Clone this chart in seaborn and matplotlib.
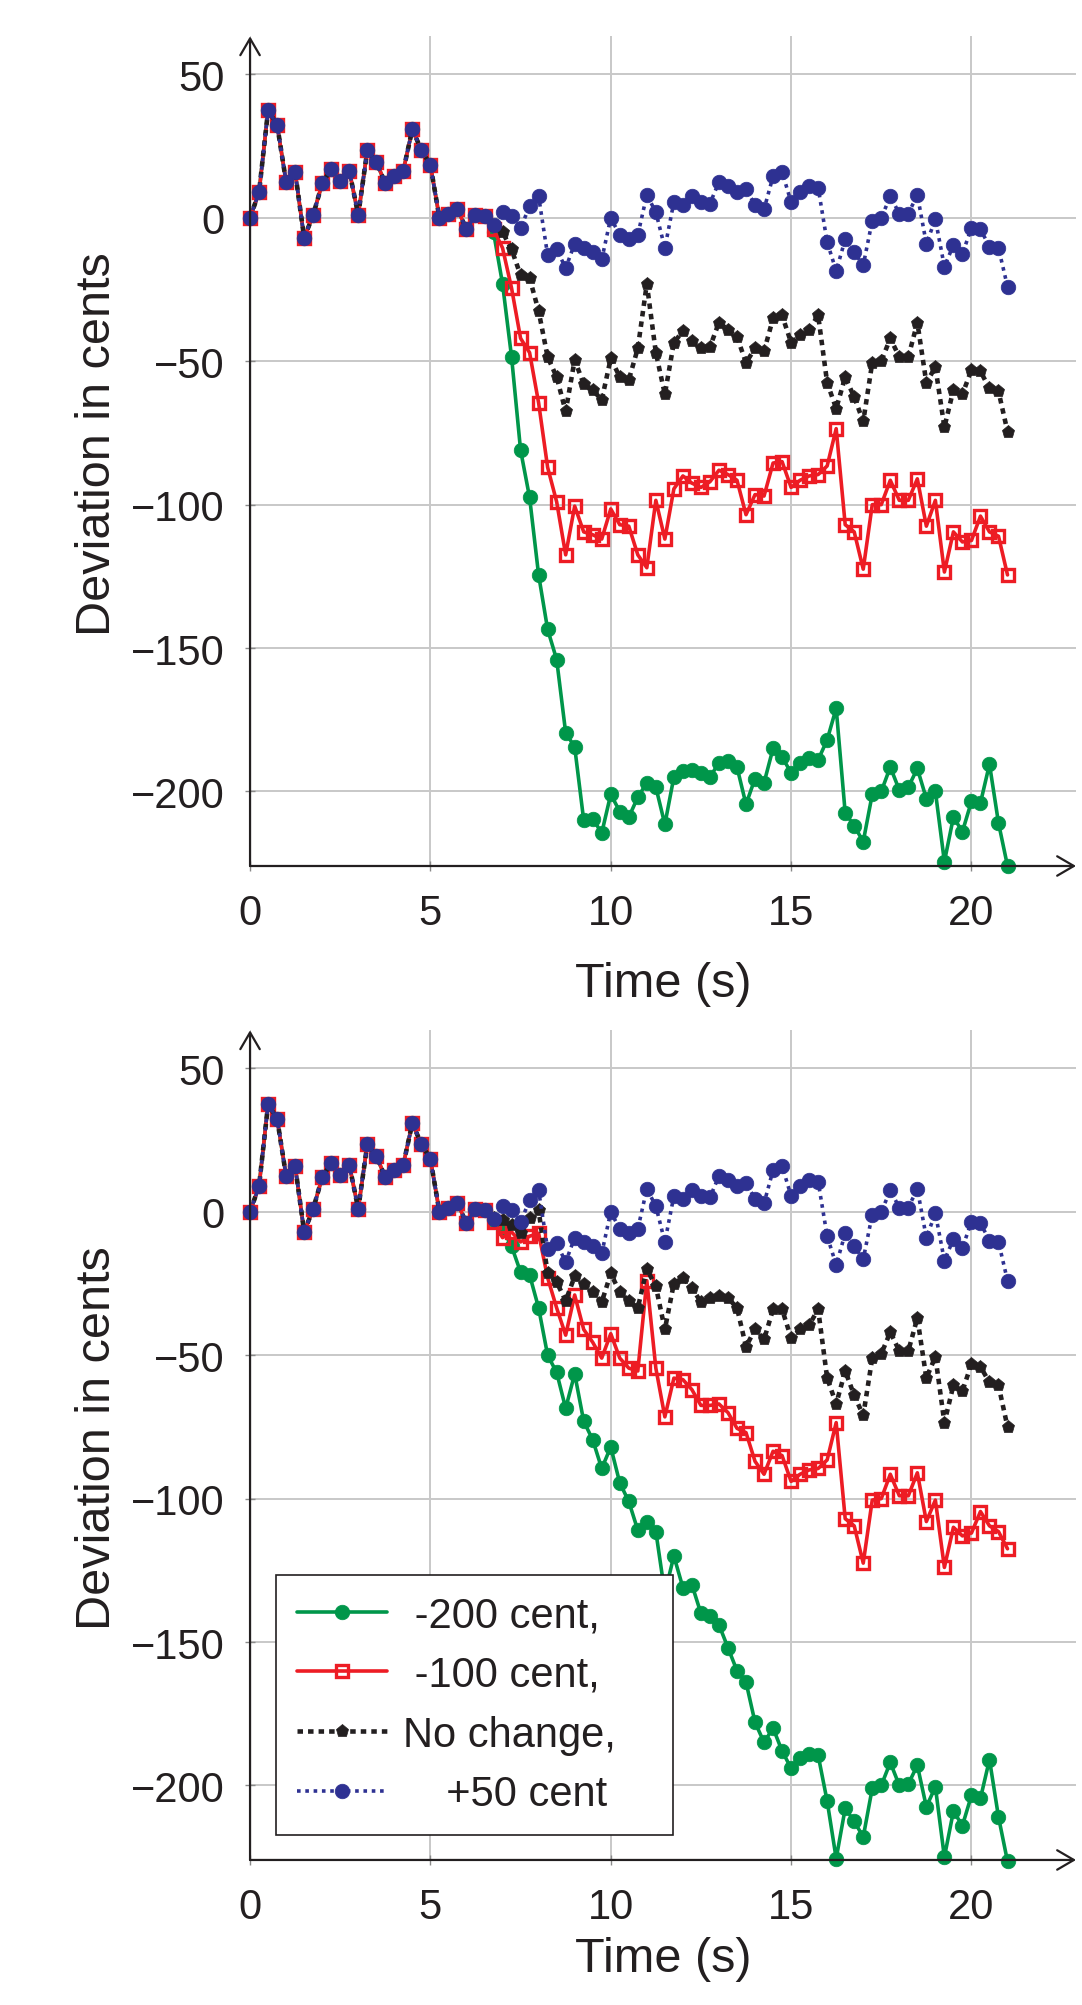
import matplotlib
matplotlib.use("Agg")
import matplotlib.pyplot as plt
import seaborn as sns

# ---------------- data ----------------
time_s = [0.0, 0.25, 0.5, 0.75, 1.0, 1.25, 1.5, 1.75, 2.0, 2.25, 2.5, 2.75,
          3.0, 3.25, 3.5, 3.75, 4.0, 4.25, 4.5, 4.75, 5.0, 5.25, 5.5, 5.75,
          6.0, 6.25, 6.5, 6.75, 7.0, 7.25, 7.5, 7.75, 8.0, 8.25, 8.5, 8.75,
          9.0, 9.25, 9.5, 9.75, 10.0, 10.25, 10.5, 10.75, 11.0, 11.25, 11.5, 11.75,
          12.0, 12.25, 12.5, 12.75, 13.0, 13.25, 13.5, 13.75, 14.0, 14.25, 14.5, 14.75,
          15.0, 15.25, 15.5, 15.75, 16.0, 16.25, 16.5, 16.75, 17.0, 17.25, 17.5, 17.75,
          18.0, 18.25, 18.5, 18.75, 19.0, 19.25, 19.5, 19.75, 20.0, 20.25, 20.5, 20.75,
          21.0]

# common part of every series (0 s .. 6.5 s)
shared_start = [0, 9, 37.5, 32.5, 12.5, 16, -7, 1, 12, 17, 13, 16.5, 1, 23.5,
                19.5, 12, 14.5, 16.5, 31, 23.5, 18.5, 0, 1.5, 3, -4, 1, 0.5]

# 6.75 s .. 21 s
plus50_tail = [-2.5, 2, 0.5, -3.5, 4, 7.5, -13, -11, -17.5, -9, -10.5, -12, -14.5,
               0, -6, -7.5, -6, 8, 2, -10.5, 5.5, 4.5, 7.5, 5.5, 5, 12.5, 11, 9, 10,
               4.5, 3, 14.5, 16, 5.5, 9, 11, 10.5, -8.5, -18.5, -7.5, -12, -16.5, -1,
               0, 7.5, 1.5, 1.5, 8, -9, -0.5, -17, -9.5, -12.5, -3.5, -4, -10, -10.5, -24]

# upper panel
nochange_top_tail = [-3, -5, -11, -20, -21, -32.5, -48.5, -55.5, -67.5, -49.5, -58, -60,
                     -63.5, -49, -55.5, -56.5, -45.5, -23, -47, -61.5, -43.5, -39.5, -43,
                     -45.5, -45, -36.5, -39, -41.5, -50.5, -45.5, -46.5, -35, -34, -43.5,
                     -41, -39, -34, -57.5, -66.5, -55.5, -62.5, -71, -50.5, -50, -42, -48.5,
                     -48.5, -36.5, -57.5, -52, -73, -60, -61.5, -53, -53.5, -59.5, -60.5, -74.5]
minus100_top_tail = [-4, -10.5, -24.5, -42, -47, -64.5, -87, -99, -117.5, -100.5, -109.5,
                     -110.5, -112, -101.5, -107, -107.5, -117.5, -122, -98.5, -112, -94.5,
                     -90, -92.5, -94, -92, -88, -89.5, -91.5, -103.5, -96.5, -97, -85.5, -85,
                     -94, -91.5, -90, -89.5, -86.5, -73.5, -107, -109.5, -122.5, -100, -100,
                     -91.5, -98.5, -98.5, -91, -107.5, -98.5, -123.5, -109.5, -113, -112.5,
                     -104, -109.5, -111, -124.5]
minus200_top_tail = [-5, -23, -48.5, -81, -97.5, -124.5, -143.5, -154, -179.5, -184.5, -210,
                     -209.5, -214.5, -201, -207, -209, -202, -197, -198.5, -211.5, -195, -193,
                     -192.5, -193.5, -195, -190, -189.5, -191.5, -204.5, -195.5, -197, -185,
                     -188, -193.5, -190, -188.5, -189, -182, -171, -207.5, -212, -217.5, -201,
                     -200, -191.5, -199.5, -198.5, -192, -202.5, -200, -224.5, -209, -214,
                     -203.5, -204, -190.5, -211, -226]

# lower panel
nochange_bot_tail = [-2, -3, -4.5, -7.5, -2, 0.5, -21.5, -24.5, -31, -22.5, -25, -28, -31.5,
                     -21.5, -28, -31, -33.5, -20, -26, -41, -25, -23, -26.5, -31.5, -30, -29.5,
                     -30, -33.5, -47, -41, -44.5, -34, -34, -44, -41, -39.5, -34, -58, -67,
                     -55.5, -64, -71, -51, -49.5, -42, -48.5, -48.5, -37, -58, -50.5, -73.5,
                     -60.5, -62.5, -53, -54, -59.5, -60.5, -75]
minus100_bot_tail = [-3.5, -9, -7, -10.5, -8.5, -7.5, -23, -33.5, -43, -29, -41, -45.5, -51,
                     -42.5, -51, -54.5, -55.5, -24, -54.5, -71.5, -58, -58.5, -62, -67.5,
                     -67.5, -67, -70, -75.5, -77, -87, -91.5, -83.5, -85, -94, -91.5, -90,
                     -89.5, -86.5, -73.5, -107, -109.5, -122.5, -100.5, -100, -91.5, -99, -99,
                     -91, -108, -100.5, -124, -110, -113, -112, -104.5, -109.5, -111.5, -117.5]
minus200_bot_tail = [-3, -6, -12, -21, -22, -33.5, -50, -56, -68.5, -56.5, -73, -79.5, -89.5,
                     -82, -94.5, -101, -111, -108, -111.5, -133, -120, -131, -130, -140, -141,
                     -144, -152, -160, -164, -178, -185, -180, -188, -194, -190.5, -189,
                     -189.5, -205.5, -225.5, -208, -212.5, -218, -201, -200, -192, -200,
                     -199.5, -193, -207.5, -200.5, -225, -209, -214, -203.5, -204.5, -191,
                     -211, -226.5]

series_labels = [" -200 cent,", " -100 cent,", "No change,", "   \u2009+50 cent"]
x_ticks = [0, 5, 10, 15, 20]
y_ticks = [-200, -150, -100, -50, 0, 50]

# ---------------- styling ----------------
sns.set_theme(style="white")
plt.rcParams["font.family"] = ["Liberation Sans", "DejaVu Sans"]
plt.rcParams["axes.unicode_minus"] = True

INK = "#231F20"
GREEN = "#00964A"
RED = "#ED1C24"
BLUE = "#2E3192"
GRID = "#C8C8C8"

line_styles = [
    dict(color=GREEN, linewidth=2.6, linestyle="-", marker="o", markersize=10.5,
         markerfacecolor=GREEN, markeredgecolor=GREEN, markeredgewidth=0.5),
    dict(color=RED, linewidth=2.6, linestyle="-", marker="s", markersize=8.2,
         markerfacecolor="none", markeredgecolor=RED, markeredgewidth=2.4),
    dict(color=INK, linewidth=3.3, linestyle=(0, (1.2, 1.1)), marker="p",
         markersize=9.5, markerfacecolor=INK, markeredgecolor=INK, markeredgewidth=0.5),
    dict(color=BLUE, linewidth=2.6, linestyle=(0, (1.0, 1.3)), marker="o",
         markersize=10.5, markerfacecolor=BLUE, markeredgecolor=BLUE, markeredgewidth=0.5),
]

fig = plt.figure(figsize=(10.82, 20.06), dpi=100)
ax_top = fig.add_axes([0.2311, 0.5678, 0.7634, 0.4136])
ax_bot = fig.add_axes([0.2311, 0.0723, 0.7634, 0.4136])

panels = [
    (ax_top, -0.114, [shared_start + minus200_top_tail, shared_start + minus100_top_tail,
                      shared_start + nochange_top_tail, shared_start + plus50_tail]),
    (ax_bot, -0.092, [shared_start + minus200_bot_tail, shared_start + minus100_bot_tail,
                      shared_start + nochange_bot_tail, shared_start + plus50_tail]),
]

for ax, xlab_y, ys in panels:
    for k, (y, st, lab) in enumerate(zip(ys, line_styles, series_labels)):
        sns.lineplot(x=time_s, y=y, ax=ax, legend=False, errorbar=None, sort=False,
                     label=lab, clip_on=False, zorder=3 + k, **st)

    ax.set_xlim(0, 22.9)
    ax.set_ylim(-226, 63.3)
    ax.set_xticks(x_ticks)
    ax.set_yticks(y_ticks)
    ax.grid(True, color=GRID, linewidth=1.4)
    ax.set_axisbelow(True)
    for sp in ax.spines.values():
        sp.set_visible(False)
    ax.tick_params(axis="both", which="major", bottom=True, left=True,
                   direction="inout", length=7, width=1.0, color="#8A8A8A",
                   labelsize=30, labelcolor=INK)
    ax.tick_params(axis="x", pad=16)
    ax.tick_params(axis="y", pad=15)

    # axis lines with arrow heads
    arrow = dict(arrowstyle="->,head_length=0.6,head_width=0.35", lw=1.6, color=INK,
                 shrinkA=0, shrinkB=0, mutation_scale=20)
    ax.annotate("", xy=(1, 0), xytext=(0, 0), xycoords="axes fraction",
                textcoords="axes fraction", arrowprops=arrow, zorder=10)
    ax.annotate("", xy=(0, 1), xytext=(0, 0), xycoords="axes fraction",
                textcoords="axes fraction", arrowprops=arrow, zorder=10)

    ax.set_xlabel("Time (s)", fontsize=35, color=INK)
    ax.xaxis.set_label_coords(0.5, xlab_y)
    ax.set_ylabel("Deviation in cents", fontsize=35, color=INK)
    ax.yaxis.set_label_coords(-0.157, 0.51)

handles = ax_bot.get_lines()[:4]
leg = ax_bot.legend(handles, series_labels, loc="lower left",
                    bbox_to_anchor=(0.0315, 0.0301, 0.4806, 0.3), mode="expand",
                    borderaxespad=0, fontsize=30, frameon=True, fancybox=False,
                    framealpha=1, edgecolor=INK, handlelength=2.17,
                    handletextpad=0.38, labelspacing=0.47, borderpad=0.5)
leg.get_frame().set_linewidth(1.2)
leg.set_zorder(20)
for t in leg.get_texts():
    t.set_color(INK)

fig.savefig("out.png", dpi=100, facecolor="white")
